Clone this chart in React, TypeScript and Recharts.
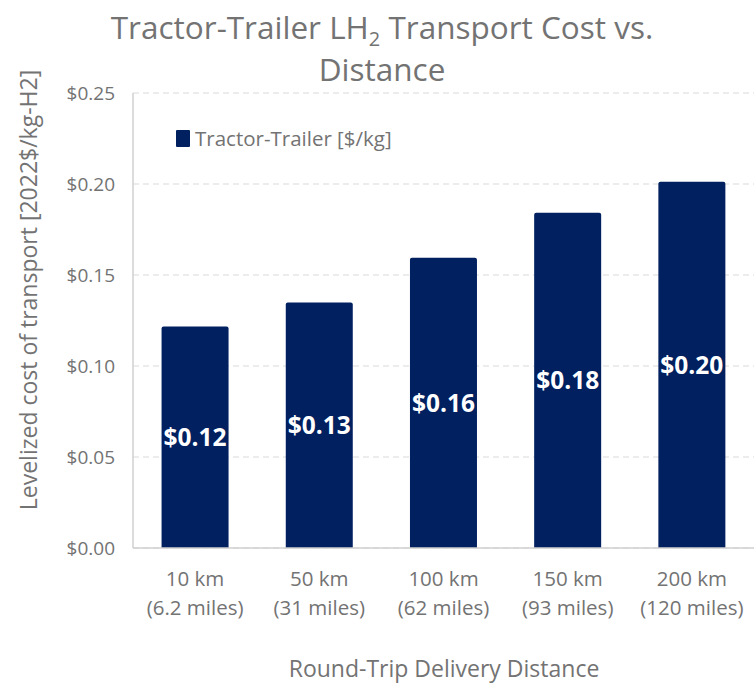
import React from "react";
import {
  BarChart,
  Bar,
  XAxis,
  YAxis,
  CartesianGrid,
  LabelList,
  Label,
} from "recharts";

const distances = ["10 km", "50 km", "100 km", "150 km", "200 km"];
const miles = ["(6.2 miles)", "(31 miles)", "(62 miles)", "(93 miles)", "(120 miles)"];
const costs = [0.1217, 0.1349, 0.1595, 0.1842, 0.2012];
const yTicks = [0, 0.05, 0.1, 0.15, 0.2, 0.25];

const NAVY = "#002060";
const GREY = "#737373";
const FONT = "'Open Sans', sans-serif";

const data = distances.map((d, i) => ({ name: d, miles: miles[i], cost: costs[i] }));

const money = (v: number) => `$${v.toFixed(2)}`;

function DistanceTick({ x, y, payload, index }: any) {
  return (
    <g>
      <text x={x} y={y + 30} textAnchor="middle" fill={GREY} fontSize={20.5} fontFamily={FONT}>
        {payload.value}
      </text>
      <text x={x} y={y + 59} textAnchor="middle" fill={GREY} fontSize={20.5} fontFamily={FONT}>
        {miles[index]}
      </text>
    </g>
  );
}

const titleLine: React.CSSProperties = {
  position: "absolute",
  left: 0,
  width: 764,
  textAlign: "center",
  fontFamily: FONT,
  fontSize: 31.5,
  lineHeight: "36px",
  color: GREY,
  whiteSpace: "nowrap",
};

export default function App() {
  return (
    <div style={{ position: "absolute", left: 0, top: 0, width: 754, height: 685, background: "#fff" }}>
      <div style={{ ...titleLine, top: 9 }}>
        Tractor-Trailer LH<sub style={{ fontSize: 20, lineHeight: 0 }}>2</sub> Transport Cost vs.
      </div>
      <div style={{ ...titleLine, top: 51 }}>Distance</div>
      <div
        style={{
          position: "absolute",
          left: 176,
          top: 124,
          display: "flex",
          alignItems: "center",
          fontFamily: FONT,
          fontSize: 20.5,
          color: GREY,
          zIndex: 2,
        }}
      >
        <span style={{ width: 14, height: 17, background: NAVY, marginRight: 5, display: "inline-block", borderRadius: 1 }} />
        Tractor-Trailer [$/kg]
      </div>
      <BarChart
        width={754}
        height={685}
        data={data}
        margin={{ top: 93, right: 0, bottom: 107, left: 0 }}
        barCategoryGap="23%"
      >
        <CartesianGrid vertical={false} stroke="#d9d9d9" strokeDasharray="6 4" />
        <XAxis
          dataKey="name"
          height={30}
          axisLine={{ stroke: "#d0d0d0", strokeWidth: 1.5 }}
          tickLine={false}
          tick={<DistanceTick />}
          interval={0}
        >
          <Label
            content={() => (
              <text x={444} y={677} textAnchor="middle" fill={GREY} fontSize={23} fontFamily={FONT}>
                Round-Trip Delivery Distance
              </text>
            )}
          />
        </XAxis>
        <YAxis
          width={133}
          domain={[0, 0.25]}
          ticks={yTicks}
          tickFormatter={money}
          axisLine={{ stroke: "#d0d0d0", strokeWidth: 1.5 }}
          tickLine={false}
          tickSize={6}
          tickMargin={12}
          tick={{ fill: GREY, fontSize: 19, fontFamily: FONT }}
        >
          <Label
            content={() => (
              <text
                x={0}
                y={0}
                transform="translate(37 290) rotate(-90)"
                textAnchor="middle"
                fill={GREY}
                fontSize={23}
                fontFamily={FONT}
              >
                Levelized cost of transport [2022$/kg-H2]
              </text>
            )}
          />
        </YAxis>
        <Bar dataKey="cost" fill={NAVY} isAnimationActive={false} radius={[2, 2, 0, 0]}>
          <LabelList
            dataKey="cost"
            position="center"
            formatter={(v: any) => money(Number(v))}
            fill="#ffffff"
            fontSize={24.5}
            fontWeight="bold"
            fontFamily={FONT}
          />
        </Bar>
      </BarChart>
    </div>
  );
}
